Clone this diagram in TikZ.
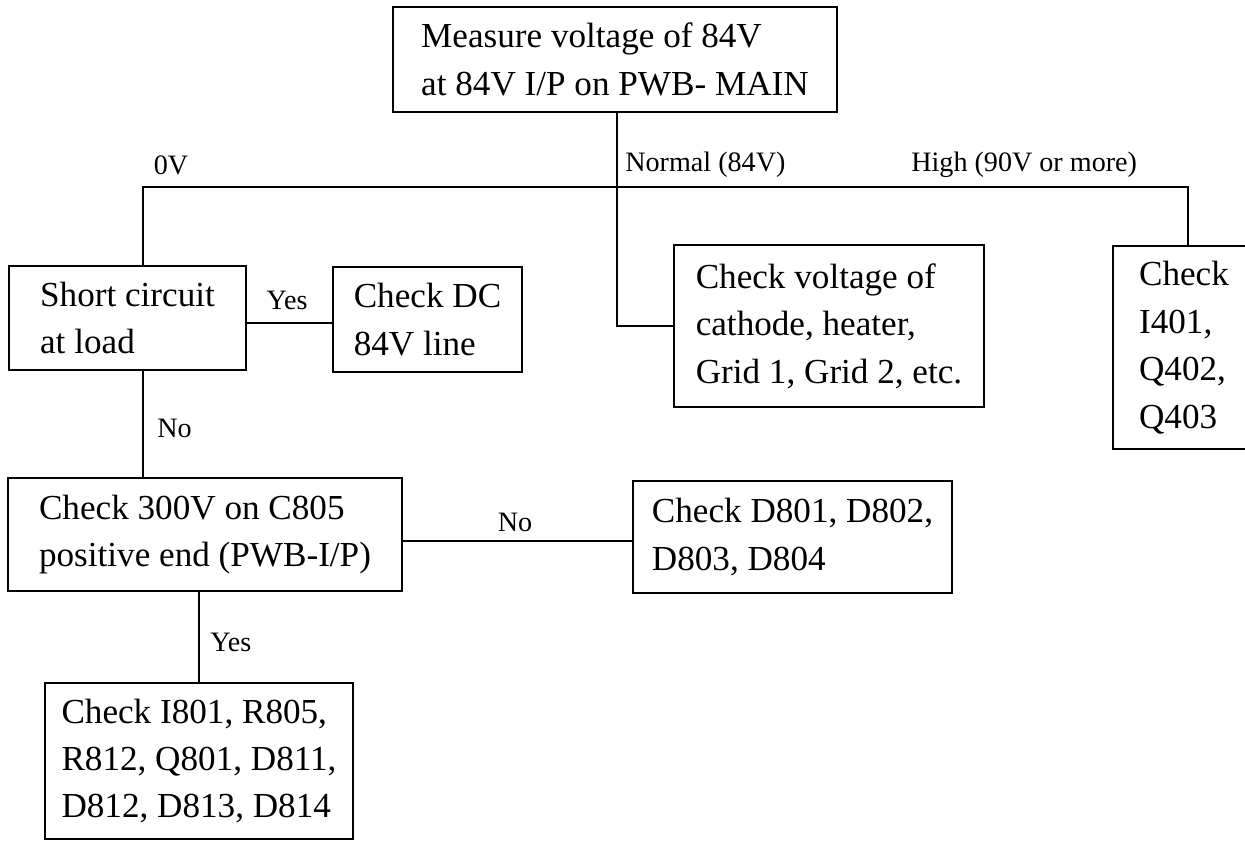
\documentclass[tikz,border=0pt]{standalone}
\usepackage{fontspec}
\setmainfont{Liberation Serif}
\usepackage{tikz}

\begin{document}
\begin{tikzpicture}[
    stepbox/.style={draw, line width=1.6pt, align=left, inner xsep=0pt,
        font=\fontsize{20}{27}\selectfont},
    branch/.style={inner sep=0pt, font=\fontsize{16}{18}\selectfont},
    wire/.style={line width=1.3pt}]
\useasboundingbox (0,0) rectangle (24.9,16.84);
\node[stepbox, minimum width=8.88cm, minimum height=2.10cm](measure) at (12.30, 15.65) {Measure voltage of 84V\\at 84V I/P on PWB- MAIN};
\node[stepbox, minimum width=4.74cm, minimum height=2.08cm](short) at (2.55, 10.48) {Short circuit\\at load};
\node[stepbox, minimum width=3.78cm, minimum height=2.10cm](dcline) at (8.55, 10.45) {Check DC\\84V line};
\node[stepbox, minimum width=6.20cm, minimum height=3.24cm](cathode) at (16.58, 10.32) {Check voltage of\\cathode, heater,\\Grid 1, Grid 2, etc.};
\node[stepbox, minimum width=2.84cm, minimum height=4.06cm](high) at (23.68, 9.89) {Check\\I401,\\Q402,\\Q403};
\node[stepbox, minimum width=7.88cm, minimum height=2.26cm](cap) at (4.10, 6.15) {Check 300V on C805\\positive end (PWB-I/P)};
\node[stepbox, minimum width=6.38cm, minimum height=2.24cm](diodes) at (15.85, 6.10) {Check D801, D802,\\D803, D804};
\node[stepbox, minimum width=6.16cm, minimum height=3.12cm](parts) at (3.98, 1.62) {Check I801, R805,\\R812, Q801, D811,\\D812, D813, D814};
\coordinate (busL) at (2.86, 13.10);
\coordinate (busR) at (23.76, 13.10);
\coordinate (split) at (12.34, 13.10);
\draw[wire] (measure.south -| split) |- (cathode.west);
\draw[wire] (short.north -| busL) -- (busL) -- (busR) -- (high.north -| busR);
\draw[wire] ([yshift=-0.1cm]short.east) -- ([yshift=-0.1cm]short.east -| dcline.west);
\draw[wire] (short.south -| busL) -- (cap.north -| busL);
\draw[wire] ([yshift=-0.13cm]cap.east) -- ([yshift=-0.13cm]cap.east -| diodes.west);
\draw[wire] (cap.south -| parts.north) -- (parts.north);
\node[branch](zero) at (3.42, 13.54) {0V};
\node[branch, anchor=west](normal) at (12.50, 13.54) {Normal (84V)};
\node[branch, anchor=west](over) at (18.22, 13.54) {High (90V or more)};
\node[branch](yes1) at (5.74, 10.84) {Yes};
\node[branch, anchor=west](no1) at (3.14, 8.28) {No};
\node[branch](no2) at (10.30, 6.40) {No};
\node[branch, anchor=west](yes2) at (4.20, 4.00) {Yes};
\end{tikzpicture}
\end{document}
